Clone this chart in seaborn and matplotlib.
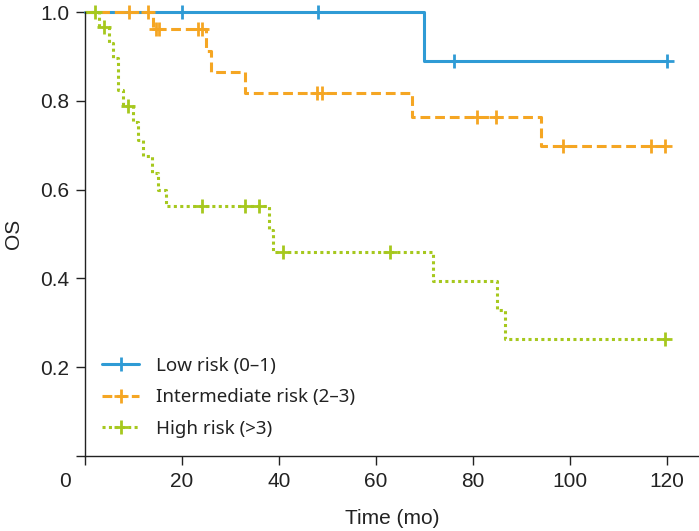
import numpy as np
import pandas as pd
import matplotlib
matplotlib.use("Agg")
import matplotlib.pyplot as plt
import matplotlib.transforms as mtransforms
from matplotlib.lines import Line2D
import seaborn as sns

# step times (event times) and survival after each step
groups = ["Low risk (0\u20131)", "Intermediate risk (2\u20133)", "High risk (>3)"]

low_t = [0, 70, 120]
low_s = [1.0, 0.889, 0.889]
low_cens = [20, 48, 76, 120]

mid_t = [0, 14, 25, 26, 33, 67.5, 94, 120]
mid_s = [1.0, 0.962, 0.912, 0.865, 0.818, 0.763, 0.699, 0.699]
mid_cens = [9, 13, 14.6, 15.2, 23.2, 24.2, 47.8, 48.8, 80.8, 84.7, 98.6, 116.6, 119.6]

high_t = [0, 2.8, 5.0, 5.8, 6.9, 7.9, 10.0, 11.0, 12.0, 13.9, 15.0, 16.8, 37.9, 38.8, 71.8, 84.9, 86.7, 120]
high_s = [1.0, 0.966, 0.931, 0.896, 0.824, 0.788, 0.753, 0.713, 0.676, 0.638, 0.599, 0.563,
          0.509, 0.460, 0.395, 0.330, 0.263, 0.263]
high_cens = [2.0, 4.0, 8.9, 24.1, 32.9, 35.9, 40.9, 62.8, 119.6]

colors = ["#2f9bd5", "#f5a623", "#a6c81e"]
styles = ["-", (0, (3.2, 1.6)), (0, (1, 1.1))]

sns.set_theme(style="white")
plt.rcParams['font.family'] = ['Liberation Sans', 'DejaVu Sans']

fig = plt.figure(figsize=(6.99, 5.31), dpi=100)
ax = fig.add_axes([0.1216, 0.1412, 0.8784, 0.836])

data = [(low_t, low_s, low_cens), (mid_t, mid_s, mid_cens), (high_t, high_s, high_cens)]
handles = []
for (t, s, cens), name, c, ls in zip(data, groups, colors, styles):
    df = pd.DataFrame({"time": t, "surv": s})
    sns.lineplot(data=df, x="time", y="surv", ax=ax, color=c, linestyle=ls,
                 linewidth=2.2, drawstyle="steps-post", estimator=None, sort=False,
                 clip_on=False)
    # censor marks sit on the curve
    idx = np.searchsorted(np.array(t), np.array(cens), side="right") - 1
    cy = np.array(s)[idx]
    cdf = pd.DataFrame({"time": cens, "surv": cy})
    sns.scatterplot(data=cdf, x="time", y="surv", ax=ax, marker="+", s=110,
                    color=c, linewidth=2.0, clip_on=False, zorder=5)
    handles.append(Line2D([], [], color=c, linestyle=ls, linewidth=2.2,
                          marker="+", markersize=10, markeredgewidth=2.0))

ax.set_xlim(0, 126.6)
ax.set_ylim(0, 1.0)
ax.set_xticks([0, 20, 40, 60, 80, 100, 120])
ax.set_xticklabels(["0", "20", "40", "60", "80", "100", "120"])
ax.set_yticks([0, 0.2, 0.4, 0.6, 0.8, 1.0])
ax.set_yticklabels(["", "0.2", "0.4", "0.6", "0.8", "1.0"])
ax.tick_params(axis="both", direction="out", length=6.5, width=1.0, color="#222222",
               labelsize=15, labelcolor="#222222", pad=5, left=True, bottom=True)
# origin label sits below-left of the corner
lab0 = ax.get_xticklabels()[0]
lab0.set_transform(lab0.get_transform() + mtransforms.ScaledTranslation(-0.2, 0, fig.dpi_scale_trans))

for side in ["top", "right"]:
    ax.spines[side].set_visible(False)
for side in ["left", "bottom"]:
    ax.spines[side].set_color("#222222")
    ax.spines[side].set_linewidth(1.0)

ax.set_xlabel("Time (mo)", fontsize=15, color="#222222", labelpad=13)
ax.set_ylabel("OS", fontsize=15, color="#222222", labelpad=12)

ax.legend(handles, groups, loc="upper left", bbox_to_anchor=(0.0, 0.262),
          frameon=False, handlelength=2.0, handletextpad=0.9, labelspacing=0.72,
          numpoints=1, prop={"family": "Noto Sans", "size": 13.5}, labelcolor="#222222")

fig.savefig("out.png", dpi=100)
